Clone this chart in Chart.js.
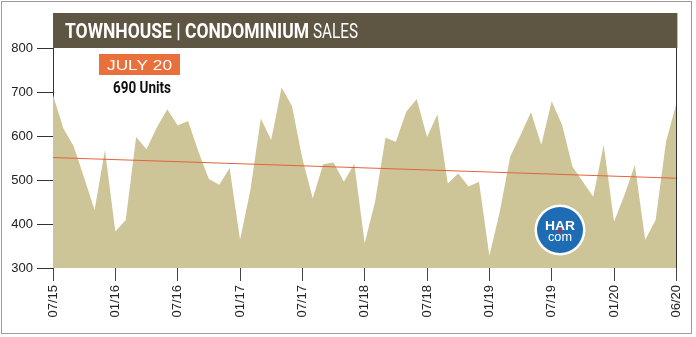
<!DOCTYPE html>
<html>
<head>
<meta charset="utf-8">
<script src="https://cdn.jsdelivr.net/npm/chart.js@4.4.0/dist/chart.umd.min.js"></script>
<style>
  html, body { margin: 0; padding: 0; background: #fff; }
  canvas { display: block; }
</style>
</head>
<body>
<canvas id="salesChart" width="696" height="337"></canvas>
<script>
// Monthly townhouse / condominium sales, 07/15 .. 07/20
const sales = [
    693, 617, 576, 505, 432, 568, 383, 409, 598, 570, 620, 661,
    624, 634, 564, 502, 489, 527, 364, 477, 640, 591, 710, 668,
    549, 458, 536, 540, 496, 537, 356, 451, 596, 587, 655, 684,
    598, 649, 492, 515, 485, 496, 328, 428, 553, 602, 654, 580,
    679, 625, 530, 496, 462, 580, 405, 466, 534, 364, 409, 587,
    674
];
// trend line end values (first and last month)
const trendEnds = [551, 504];
// x tick labels, one every 6 months
const tickLabels = ['07/15', '01/16', '07/16', '01/17', '07/17', '01/18', '07/18', '01/19', '07/19', '01/20', '06/20'];
const yTicks = [300, 400, 500, 600, 700, 800];

const title = 'TOWNHOUSE | CONDOMINIUM';
const titleLight = 'SALES';
const badgeText = 'JULY 20';
const badgeValue = '690 Units';

/**
 * Draw text stretched horizontally to a given width
 */
function fitText(ctx, text, x, y, width, font, color) {
    ctx.save();
    ctx.font = font;
    const w = ctx.measureText(text).width;
    ctx.translate(x, y);
    ctx.scale(width / w, 1);
    ctx.fillStyle = color;
    ctx.textAlign = 'left';
    ctx.textBaseline = 'alphabetic';
    ctx.fillText(text, 0, 0);
    ctx.restore();
}

const decorations = {
    id: 'decorations',
    beforeDraw(chart) {
        const ctx = chart.ctx;
        ctx.save();
        ctx.fillStyle = '#fff';
        ctx.fillRect(0, 0, chart.width, chart.height);
        ctx.strokeStyle = '#9c9c9c';
        ctx.lineWidth = 1;
        ctx.strokeRect(1.5, 1.5, 690, 332);
        ctx.restore();
    },
    afterDraw(chart) {
        const ctx = chart.ctx;
        const area = chart.chartArea;
        ctx.save();

        // right border of plot
        ctx.strokeStyle = '#333';
        ctx.lineWidth = 1;
        ctx.beginPath();
        ctx.moveTo(Math.round(area.right) + 0.5, area.top);
        ctx.lineTo(Math.round(area.right) + 0.5, area.bottom);
        ctx.stroke();

        // header band
        ctx.fillStyle = '#5f5543';
        ctx.fillRect(area.left, 13, area.right - area.left + 1, area.top - 13);
        fitText(ctx, title, 65, 37.5, 244, 'bold 20px Roboto', '#fff');
        fitText(ctx, titleLight, 313, 37.5, 45, '20px Roboto', '#fff');

        // month badge
        ctx.fillStyle = '#e9703a';
        ctx.fillRect(99, 54, 81, 21);
        fitText(ctx, badgeText, 107, 70, 65, '15px "Liberation Sans"', '#fff');
        fitText(ctx, badgeValue, 113, 93, 58, 'bold 16px Roboto', '#111');

        // HAR logo
        const cx = 560, cy = 230;
        ctx.fillStyle = '#fff';
        ctx.beginPath();
        ctx.arc(cx, cy, 25.5, 0, Math.PI * 2);
        ctx.fill();
        ctx.fillStyle = '#1d6cb4';
        ctx.beginPath();
        ctx.arc(cx, cy, 23, 0, Math.PI * 2);
        ctx.fill();
        fitText(ctx, 'HAR', 545, 229.5, 30, 'bold 12px "Liberation Sans"', '#fff');
        fitText(ctx, 'com', 548, 241, 24, '13px "Liberation Sans"', '#fff');
        ctx.fillStyle = '#c3264f';
        ctx.beginPath();
        ctx.arc(cx, 231, 2, 0, Math.PI * 2);
        ctx.fill();

        ctx.restore();
    }
};

const ctx = document.getElementById('salesChart').getContext('2d');

new Chart(ctx, {
    type: 'line',
    data: {
        datasets: [{
            label: 'Sales',
            data: sales.map((v, i) => ({ x: i, y: v })),
            backgroundColor: '#cdc498',
            borderWidth: 0,
            borderColor: 'rgba(0,0,0,0)',
            pointRadius: 0,
            tension: 0,
            fill: 'start',
            order: 2
        }, {
            label: 'Trend',
            data: [{ x: 0, y: trendEnds[0] }, { x: sales.length - 1, y: trendEnds[1] }],
            borderColor: '#e2643a',
            borderWidth: 1,
            pointRadius: 0,
            fill: false,
            order: 1
        }]
    },
    options: {
        responsive: false,
        animation: false,
        devicePixelRatio: 1,
        layout: {
            padding: { top: 48, right: 15, left: 0, bottom: 0 }
        },
        plugins: {
            legend: { display: false },
            tooltip: { enabled: false }
        },
        scales: {
            x: {
                type: 'linear',
                min: 0,
                max: sales.length - 1,
                afterFit(scale) { scale.height = 69; },
                afterBuildTicks(scale) {
                    scale.ticks = tickLabels.map((t, i) => ({ value: i * 6 }));
                },
                border: { display: false },
                grid: {
                    drawOnChartArea: false,
                    tickLength: 13,
                    color: '#444'
                },
                ticks: {
                    autoSkip: false,
                    minRotation: 90,
                    maxRotation: 90,
                    padding: 4,
                    color: '#222',
                    font: { family: '"Liberation Sans", Arial', size: 13 },
                    callback: (value) => tickLabels[Math.round(value / 6)]
                }
            },
            y: {
                min: 300,
                max: 800,
                afterFit(scale) { scale.width = 53; },
                afterBuildTicks(scale) {
                    scale.ticks = yTicks.map(v => ({ value: v }));
                },
                border: { display: true, color: '#333', width: 1 },
                grid: {
                    drawOnChartArea: false,
                    tickLength: 16,
                    color: '#333'
                },
                ticks: {
                    padding: 4,
                    color: '#222',
                    font: { family: '"Liberation Sans", Arial', size: 13 }
                }
            }
        }
    },
    plugins: [decorations]
});
</script>
</body>
</html>
